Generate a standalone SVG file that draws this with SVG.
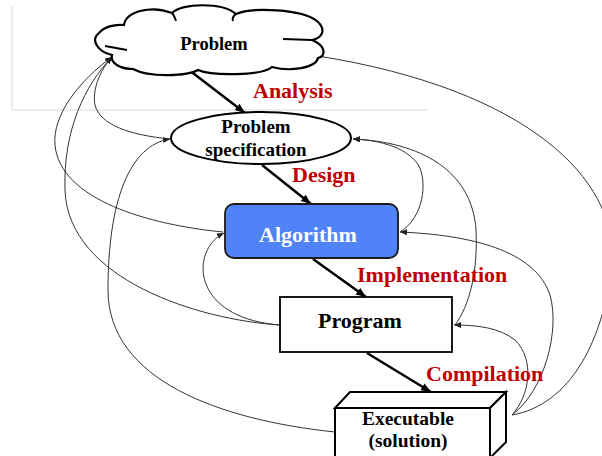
<svg xmlns="http://www.w3.org/2000/svg" width="602" height="456" viewBox="0 0 602 456">
<style>
.frame{stroke:#dcdcdc;stroke-width:1;fill:none}
.thick{stroke:#000;stroke-width:2.5;fill:none;marker-end:url(#big)}
.thin{stroke:#333;stroke-width:1;fill:none}
.ar{marker-end:url(#small)}
text{font-family:"Liberation Serif","Times New Roman",serif;font-weight:bold}
.node{fill:#000;text-anchor:middle}
.lbl{fill:#c00000;font-size:22px}
</style>
<defs>
<marker id="big" markerUnits="userSpaceOnUse" markerWidth="11" markerHeight="9" refX="10" refY="4" orient="auto"><path d="M0,0 L10,4 L0,8 Z" fill="#000"/></marker>
<marker id="small" markerUnits="userSpaceOnUse" markerWidth="8" markerHeight="7" refX="7" refY="3" orient="auto"><path d="M0,0 L7,3 L0,6 Z" fill="#222"/></marker>
</defs>
<rect width="602" height="456" fill="#fff"/>
<g id="frame"><path class="frame" d="M12,6 V110 H427"/></g>

<g id="connectors">
<path class="thick" d="M189,70 L245,113"/>
<path class="thick" d="M262,165 L311,204"/>
<path class="thick" d="M313,259 L366,297"/>
<path class="thick" d="M367,353 L431,392"/>
<path class="thin ar" d="M170,139 C130,135 100,125 95,105 C92,90 100,70 112,57"/>
<path class="thin ar" d="M223,232 C150,225 60,200 55,145 C52,115 80,80 112,57"/>
<path class="thin ar" d="M280,325 C200,320 68,280 65,190 C63,130 85,85 112,57"/>
<path class="thin" d="M512,415 C570,405 605,340 612,260 C616,180 530,90 318,56"/>
<path class="thin ar" d="M400,232 C420,220 428,190 420,168 C410,148 380,140 353,139"/>
<path class="thin ar" d="M455,325 C470,305 478,270 476,230 C472,170 420,142 353,139"/>
<path class="thin ar" d="M335,432 C220,420 108,380 108,290 C108,200 130,145 170,139"/>
<path class="thin ar" d="M280,325 C190,318 190,250 224,233"/>
<path class="thin ar" d="M512,415 C545,390 560,330 550,295 C535,250 470,235 400,232"/>
<path class="thin ar" d="M512,415 C530,395 535,360 515,340 C500,328 478,325 454,325"/>
</g>

<g id="problem">
<path d="M112,55 C98,52 90,40 99,33 C104,27 114,24 124,25 C126,11 152,5 172,13 C182,3 222,2 236,14 C252,7 302,9 317,21 C327,30 322,38 312,40 C325,45 327,56 318,58 C316,68 290,72 272,67 C262,76 212,76 198,70 C188,76 150,78 133,69 C120,69 110,63 112,55 Z" fill="#fff" stroke="#000" stroke-width="2.2"/>
<path d="M105,46 L127,50 M283,39 L312,40 M233,21 C232,18 234,15 236,14 M172,13 C174,15 175,18 176,21" fill="none" stroke="#000" stroke-width="2"/>
<text class="node" x="214" y="50" font-size="18.5">Problem</text>
</g>

<g id="spec">
<ellipse cx="261" cy="138" rx="90" ry="26" fill="#fff" stroke="#000" stroke-width="2"/>
<text class="node" x="256" y="133" font-size="19">Problem</text>
<text class="node" x="256" y="156" font-size="19">specification</text>
</g>

<g id="algorithm">
<rect x="225" y="204" width="173" height="54" rx="9" fill="#4f83f7" stroke="#1a1a1a" stroke-width="1.8"/>
<text class="node" x="308" y="242" font-size="22" style="fill:#fff">Algorithm</text>
</g>

<g id="program">
<rect x="280" y="297" width="172" height="55" fill="#fff" stroke="#000" stroke-width="1.8"/>
<text class="node" x="360" y="328" font-size="22">Program</text>
</g>

<g id="executable">
<path d="M335,408 L350,392 L506,392 L490,408 Z" fill="#fff" stroke="#000" stroke-width="2"/>
<path d="M490,408 L506,392 L506,442 L490,458 Z" fill="#fff" stroke="#000" stroke-width="2"/>
<rect x="335" y="408" width="155" height="60" fill="#fff" stroke="#000" stroke-width="2"/>
<text class="node" x="408" y="425" font-size="19.5">Executable</text>
<text class="node" x="408" y="447" font-size="19.5">(solution)</text>
</g>

<g id="labels">
<text class="lbl" x="253" y="98">Analysis</text>
<text class="lbl" x="292" y="182">Design</text>
<text class="lbl" x="357" y="282">Implementation</text>
<text class="lbl" x="426" y="381">Compilation</text>
</g>
</svg>
